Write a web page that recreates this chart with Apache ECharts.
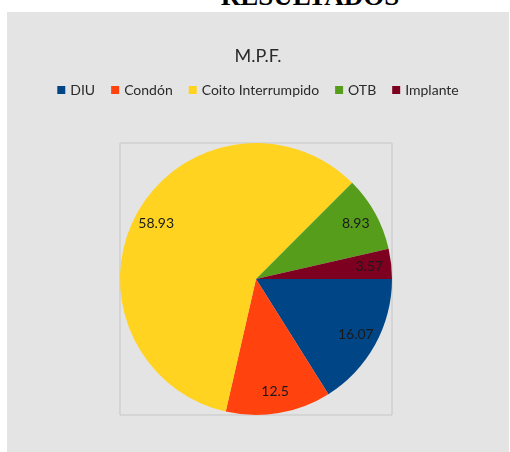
<!DOCTYPE html>
<html>
<head>
<meta charset="utf-8">
<script src="https://cdn.jsdelivr.net/npm/echarts@6/dist/echarts.min.js"></script>
<style>
  html, body { margin: 0; padding: 0; background: #fff; width: 510px; height: 452px; overflow: hidden; }
  #heading {
    position: absolute; left: 0; width: 620px; top: -19px; text-align: center;
    font-family: 'Liberation Serif', serif; font-weight: bold; font-size: 27px; color: #000;
  }
  #chart { position: absolute; left: 7px; top: 12px; width: 502px; height: 440px; background: #e4e4e4; }
</style>
</head>
<body>
<div id="heading">RESULTADOS</div>
<div id="chart"></div>
<script>
const categories = ['DIU', 'Condón', 'Coito Interrumpido', 'OTB', 'Implante']
const values = [16.07, 12.5, 58.93, 8.93, 3.57]
const colors = ['#004586', '#ff420e', '#ffd320', '#579d1c', '#7e0021']

const fontSans = "Lato, 'Open Sans', sans-serif"
const cx = 249
const cy = 267
const radius = 136

const chart = echarts.init(document.getElementById('chart'))
const pieData = categories.map((name, i) => ({ name, value: values[i] }))

chart.setOption({
  animation: false,
  color: colors,
  title: {
    text: 'M.P.F.',
    left: 'center',
    top: 30,
    textStyle: { fontFamily: fontSans, fontSize: 18, fontWeight: 'normal', color: '#2a2a2a' },
  },
  legend: {
    top: 66,
    left: 'center',
    icon: 'rect',
    itemWidth: 8,
    itemHeight: 8,
    itemGap: 16,
    textStyle: { fontFamily: fontSans, fontSize: 14, color: '#2a2a2a' },
    data: categories,
  },
  // plot area frame
  graphic: [
    {
      type: 'rect',
      shape: { x: cx - radius, y: cy - radius, width: radius * 2, height: radius * 2 },
      style: { fill: 'none', stroke: '#c6c6c6', lineWidth: 1 },
      silent: true,
    },
  ],
  series: [
    {
      type: 'pie',
      center: [cx, cy],
      radius: radius,
      startAngle: 0,
      clockwise: true,
      label: { show: false },
      labelLine: { show: false },
      data: pieData,
    },
    {
      // label ring, placed near the outer edge
      type: 'pie',
      center: [cx, cy],
      radius: [86, radius],
      startAngle: 0,
      clockwise: true,
      silent: true,
      itemStyle: { color: 'rgba(0,0,0,0)' },
      label: {
        show: true,
        position: 'inside',
        fontFamily: fontSans,
        fontSize: 14,
        color: '#1a1a1a',
        formatter: ({ value }) => String(value),
      },
      labelLine: { show: false },
      data: pieData,
    },
  ],
})
</script>
</body>
</html>
